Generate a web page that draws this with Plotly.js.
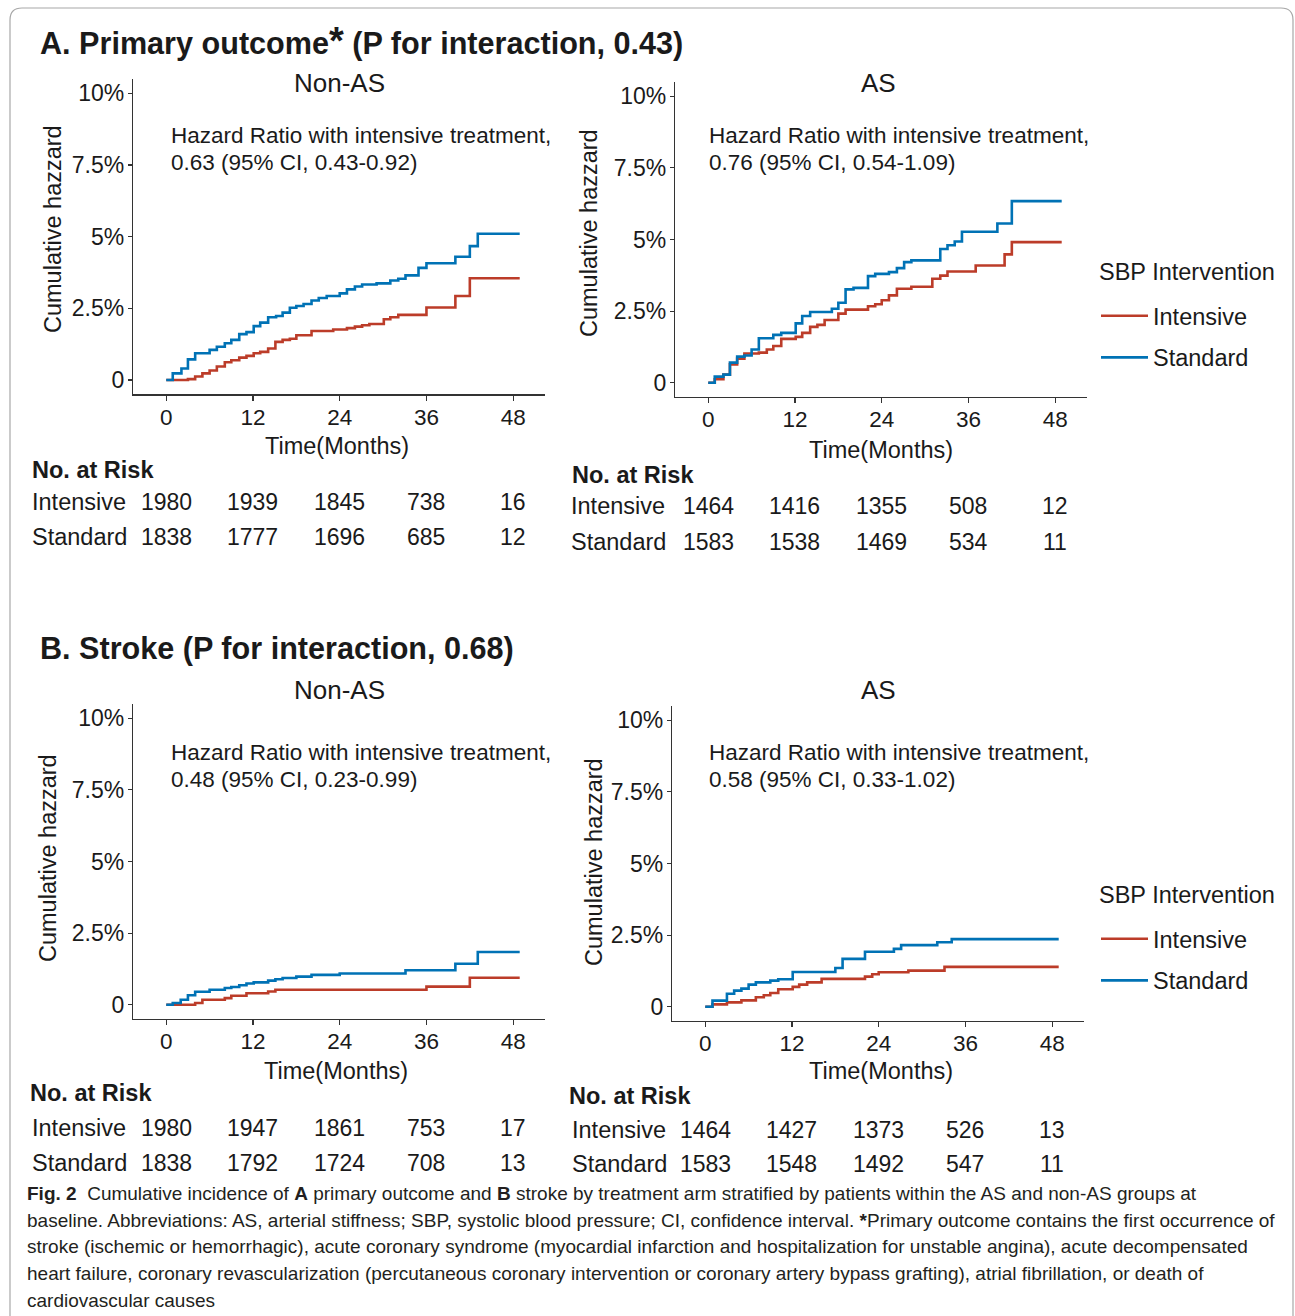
<!DOCTYPE html>
<html>
<head>
<meta charset="utf-8">
<script src="https://cdn.plot.ly/plotly-3.0.1.min.js"></script>
<style>html,body{margin:0;padding:0;background:#fff;}#chart{width:1295px;height:1316px;}</style>
</head>
<body>
<div id="chart"></div>
<script>
// ---------- DATA ----------
const groups = ["Intensive", "Standard"];
const legendTitle = "SBP Intervention";
const xTickVals = [0, 12, 24, 36, 48];
const yTickVals = [0, 2.5, 5, 7.5, 10];
const yTickText = ["0", "2.5%", "5%", "7.5%", "10%"];

// Panel A (primary outcome), Non-AS
const aNonAS_int_t = [0, 3.0, 4.0, 5.0, 6.0, 7.0, 8.1, 9.0, 10.1, 11.1, 12.1, 13.0, 14.1, 15.1, 16.1, 17.1, 18.0, 20.1, 23.1, 25.0, 26.1, 27.1, 28.1, 30.1, 31.0, 32.1, 36.0, 40.0, 42.0, 48.9];
const aNonAS_int_y = [0, 0.03, 0.12, 0.23, 0.33, 0.47, 0.62, 0.69, 0.78, 0.84, 0.93, 0.98, 1.10, 1.33, 1.40, 1.44, 1.56, 1.71, 1.76, 1.81, 1.86, 1.91, 1.95, 2.12, 2.19, 2.27, 2.53, 2.93, 3.55, 3.55];
const aNonAS_std_t = [0, 0.9, 2.1, 3.0, 4.0, 6.0, 7.0, 8.1, 9.0, 10.1, 11.1, 12.1, 13.0, 14.1, 15.2, 16.1, 17.1, 18.0, 19.0, 20.1, 21.1, 22.2, 24.0, 25.0, 26.1, 27.1, 29.1, 31.0, 32.1, 33.1, 34.9, 36.0, 40.0, 42.0, 43.1, 48.9];
const aNonAS_std_y = [0, 0.23, 0.40, 0.72, 0.93, 1.05, 1.16, 1.28, 1.40, 1.60, 1.67, 1.88, 2.00, 2.19, 2.23, 2.35, 2.52, 2.58, 2.65, 2.77, 2.86, 2.93, 3.02, 3.16, 3.26, 3.33, 3.37, 3.47, 3.53, 3.65, 3.91, 4.07, 4.30, 4.67, 5.10, 5.10];

// Panel A, AS
const aAS_int_t = [0, 0.9, 2.1, 3.0, 4.0, 5.0, 7.0, 8.1, 9.0, 10.1, 12.1, 13.0, 14.1, 15.1, 16.1, 18.0, 19.0, 22.1, 23.1, 24.0, 25.0, 26.1, 28.1, 31.0, 32.1, 33.1, 37.0, 41.0, 42.0, 48.9];
const aAS_int_y = [0, 0.12, 0.28, 0.64, 0.84, 1.02, 1.05, 1.16, 1.28, 1.53, 1.60, 1.74, 1.95, 2.02, 2.19, 2.41, 2.55, 2.67, 2.74, 2.88, 3.05, 3.28, 3.35, 3.63, 3.74, 3.88, 4.09, 4.48, 4.91, 4.91];
const aAS_std_t = [0, 0.9, 2.1, 3.0, 4.0, 5.0, 6.0, 7.0, 9.0, 10.1, 12.1, 13.0, 14.1, 17.1, 18.0, 19.0, 20.1, 22.1, 23.1, 25.0, 26.1, 27.1, 28.1, 32.1, 33.1, 34.1, 35.1, 40.0, 42.0, 48.9];
const aAS_std_y = [0, 0.21, 0.28, 0.70, 0.91, 0.95, 1.16, 1.55, 1.67, 1.74, 2.07, 2.33, 2.47, 2.58, 2.79, 3.26, 3.31, 3.72, 3.80, 3.86, 4.00, 4.21, 4.27, 4.67, 4.80, 4.93, 5.27, 5.56, 6.34, 6.34];

// Panel B (stroke), Non-AS
const bNonAS_int_t = [0, 4.0, 5.0, 8.1, 9.0, 11.1, 14.1, 15.1, 36.0, 42.0, 48.9];
const bNonAS_int_y = [0, 0.06, 0.17, 0.23, 0.31, 0.40, 0.46, 0.52, 0.63, 0.94, 0.94];
const bNonAS_std_t = [0, 0.9, 2.0, 3.0, 4.0, 6.0, 8.1, 9.0, 10.1, 11.1, 12.1, 14.1, 15.1, 16.1, 18.0, 20.1, 24.0, 33.1, 40.0, 43.1, 48.9];
const bNonAS_std_y = [0, 0.06, 0.17, 0.33, 0.45, 0.52, 0.58, 0.62, 0.68, 0.74, 0.78, 0.84, 0.89, 0.93, 0.98, 1.04, 1.09, 1.20, 1.43, 1.84, 1.84];

// Panel B, AS
const bAS_int_t = [0, 1.0, 3.0, 5.0, 7.0, 8.1, 9.0, 10.1, 12.1, 13.0, 14.1, 16.1, 22.1, 23.1, 24.0, 28.1, 33.1, 48.9];
const bAS_int_y = [0, 0.08, 0.15, 0.22, 0.33, 0.40, 0.48, 0.61, 0.69, 0.77, 0.85, 0.97, 1.05, 1.13, 1.20, 1.26, 1.39, 1.39];
const bAS_std_t = [0, 1.0, 3.0, 4.0, 5.0, 6.0, 7.0, 9.0, 10.1, 12.1, 18.0, 19.0, 22.1, 26.1, 27.1, 32.1, 34.1, 48.9];
const bAS_std_y = [0, 0.21, 0.45, 0.56, 0.63, 0.77, 0.85, 0.91, 0.96, 1.21, 1.35, 1.67, 1.92, 2.02, 2.15, 2.25, 2.36, 2.36];

// Numbers at risk (at months 0, 12, 24, 36, 48)
const riskTimes = [0, 12, 24, 36, 48];
const riskA_nonAS_int = [1980, 1939, 1845, 738, 16];
const riskA_nonAS_std = [1838, 1777, 1696, 685, 12];
const riskA_AS_int = [1464, 1416, 1355, 508, 12];
const riskA_AS_std = [1583, 1538, 1469, 534, 11];
const riskB_nonAS_int = [1980, 1947, 1861, 753, 17];
const riskB_nonAS_std = [1838, 1792, 1724, 708, 13];
const riskB_AS_int = [1464, 1427, 1373, 526, 13];
const riskB_AS_std = [1583, 1548, 1492, 547, 11];

// Texts
const titleA = "A. Primary outcome<span style=\"font-size:38px\">*</span> (P for interaction, 0.43)";
const titleB = "B. Stroke (P for interaction, 0.68)";
const hrA_nonAS = ["Hazard Ratio with intensive treatment,", "0.63 (95% CI, 0.43-0.92)"];
const hrA_AS = ["Hazard Ratio with intensive treatment,", "0.76 (95% CI, 0.54-1.09)"];
const hrB_nonAS = ["Hazard Ratio with intensive treatment,", "0.48 (95% CI, 0.23-0.99)"];
const hrB_AS = ["Hazard Ratio with intensive treatment,", "0.58 (95% CI, 0.33-1.02)"];
const captionLines = [
  "<b>Fig. 2</b>  Cumulative incidence of <b>A</b> primary outcome and <b>B</b> stroke by treatment arm stratified by patients within the AS and non-AS groups at",
  "baseline. Abbreviations: AS, arterial stiffness; SBP, systolic blood pressure; CI, confidence interval. <b>*</b>Primary outcome contains the first occurrence of",
  "stroke (ischemic or hemorrhagic), acute coronary syndrome (myocardial infarction and hospitalization for unstable angina), acute decompensated",
  "heart failure, coronary revascularization (percutaneous coronary intervention or coronary artery bypass grafting), atrial fibrillation, or death of",
  "cardiovascular causes"
];

// ---------- LAYOUT HELPERS ----------
const W = 1295, H = 1316;
const fx = p => p / W;
const fy = p => 1 - p / H;
const FONT = "Liberation Sans, Arial, Helvetica, sans-serif";
const RED = "#BC3C29", BLUE = "#0072B5";
const INK = "#1a1a1a";

function xAx(l, r) {
  return {domain: [fx(l), fx(r)], range: [-4.6, 52.4], showline: true, linecolor: "#333", linewidth: 1.2,
    ticks: "outside", ticklen: 5, tickwidth: 1.1, tickcolor: "#333", tickvals: xTickVals,
    ticklabelstandoff: -3,
    showgrid: false, zeroline: false, tickfont: {family: FONT, size: 22.5, color: INK}, fixedrange: true};
}
function yAx(b, t) {
  return {domain: [fy(b), fy(t)], range: [-0.5, 10.5], showline: true, linecolor: "#333", linewidth: 1.2,
    ticks: "outside", ticklen: 4, tickwidth: 1.1, tickcolor: "#333", tickvals: yTickVals, ticktext: yTickText,
    ticklabelstandoff: -1,
    showgrid: false, zeroline: false, tickfont: {family: FONT, size: 23, color: INK}, fixedrange: true};
}

function tr(t, y, xa, ya, name, color, leg) {
  return {x: t, y: y, xaxis: xa, yaxis: ya, type: "scatter", mode: "lines", name: name,
    line: {color: color, width: 2.6, shape: "hv"}, hoverinfo: "skip",
    showlegend: !!leg, legend: leg || "legend", legendgroup: name};
}

const data = [
  tr(aNonAS_int_t, aNonAS_int_y, "x", "y", groups[0], RED),
  tr(aNonAS_std_t, aNonAS_std_y, "x", "y", groups[1], BLUE),
  tr(aAS_int_t, aAS_int_y, "x2", "y2", groups[0], RED, "legend"),
  tr(aAS_std_t, aAS_std_y, "x2", "y2", groups[1], BLUE, "legend"),
  tr(bNonAS_int_t, bNonAS_int_y, "x3", "y3", groups[0], RED),
  tr(bNonAS_std_t, bNonAS_std_y, "x3", "y3", groups[1], BLUE),
  tr(bAS_int_t, bAS_int_y, "x4", "y4", groups[0], RED, "legend2"),
  tr(bAS_std_t, bAS_std_y, "x4", "y4", groups[1], BLUE, "legend2")
];

const ann = [];
function txt(text, x, y, size, opts) {
  ann.push(Object.assign({text: text, x: fx(x), y: fy(y), xref: "paper", yref: "paper",
    xanchor: "left", yanchor: "middle", showarrow: false,
    font: {family: FONT, size: size, color: INK}}, opts || {}));
}
// Section titles
txt("<b>" + titleA + "</b>", 38, 64, 30.6, {yanchor: "bottom"});
txt("<b>" + titleB + "</b>", 38, 648, 30.6);
// Strip titles
[[339, 83, "Non-AS"], [878, 83, "AS"], [339, 690, "Non-AS"], [878, 690, "AS"]].forEach(s => txt(s[2], s[0], s[1], 26, {xanchor: "center"}));
// HR text
[[171, 136, hrA_nonAS], [709, 136, hrA_AS], [171, 752, hrB_nonAS], [709, 752, hrB_AS]].forEach(h => {
  txt(h[2][0], h[0] - 2, h[1], 22.5);
  txt(h[2][1], h[0] - 2, h[1] + 27, 22.5);
});
// Y titles
[[53, 229], [589, 233], [48, 858], [594, 862]].forEach(p => txt("Cumulative hazzard", p[0], p[1], 23.5, {xanchor: "center", textangle: -90}));
// X titles
[[337, 446], [881, 450], [336, 1071], [881, 1071]].forEach(p => txt("Time(Months)", p[0], p[1], 23.5, {xanchor: "center"}));
// Legend titles
txt(legendTitle, 1097, 272, 23.5);
txt(legendTitle, 1097, 895, 23.5);
// Risk tables
function riskTable(xa, lx, headY, rowY1, rowY2, v1, v2, hx) {
  txt("<b>No. at Risk</b>", hx, headY, 23.5);
  txt(groups[0], lx, rowY1, 23.5);
  txt(groups[1], lx, rowY2, 23.5);
  riskTimes.forEach((t, i) => {
    ann.push({text: String(v1[i]), x: t, y: fy(rowY1), xref: xa, yref: "paper", xanchor: "center", yanchor: "middle", showarrow: false, font: {family: FONT, size: 23, color: INK}});
    ann.push({text: String(v2[i]), x: t, y: fy(rowY2), xref: xa, yref: "paper", xanchor: "center", yanchor: "middle", showarrow: false, font: {family: FONT, size: 23, color: INK}});
  });
}
riskTable("x", 30, 470, 502, 537, riskA_nonAS_int, riskA_nonAS_std, 30);
riskTable("x2", 569, 475, 506, 542, riskA_AS_int, riskA_AS_std, 570);
riskTable("x3", 30, 1093, 1128, 1163, riskB_nonAS_int, riskB_nonAS_std, 28);
riskTable("x4", 570, 1096, 1130, 1164, riskB_AS_int, riskB_AS_std, 567);
// Caption
const capY = [1193, 1220, 1246, 1273, 1300];
captionLines.forEach((l, i) => txt(l, 25, capY[i], 19, {font: {family: FONT, size: 19, color: "#231f20"}}));

const border = {type: "path", xref: "paper", yref: "paper",
  path: `M ${fx(10)},${fy(1330)} L ${fx(10)},${fy(20)} Q ${fx(10)},${fy(8)} ${fx(22)},${fy(8)} L ${fx(1281)},${fy(8)} Q ${fx(1293)},${fy(8)} ${fx(1293)},${fy(20)} L ${fx(1293)},${fy(1330)}`,
  line: {color: "#a8a8a8", width: 1.2}};

const legendBase = {xanchor: "left", yanchor: "top", bgcolor: "rgba(0,0,0,0)",
  font: {family: FONT, size: 23.5, color: INK}, tracegroupgap: 8, itemwidth: 47};

const layout = {
  width: W, height: H, margin: {l: 0, r: 0, t: 0, b: 0},
  paper_bgcolor: "#fff", plot_bgcolor: "#fff", showlegend: true,
  xaxis: Object.assign(xAx(133, 545), {anchor: "y"}), yaxis: Object.assign(yAx(394.3, 79), {anchor: "x"}),
  xaxis2: Object.assign(xAx(675, 1087), {anchor: "y2"}), yaxis2: Object.assign(yAx(397, 82), {anchor: "x2"}),
  xaxis3: Object.assign(xAx(133, 545), {anchor: "y3"}), yaxis3: Object.assign(yAx(1019, 704), {anchor: "x3"}),
  xaxis4: Object.assign(xAx(672, 1084), {anchor: "y4"}), yaxis4: Object.assign(yAx(1021, 706), {anchor: "x4"}),
  legend: Object.assign({}, legendBase, {x: fx(1096), y: fy(294)}),
  legend2: Object.assign({}, legendBase, {x: fx(1096), y: fy(917)}),
  annotations: ann, shapes: [border]
};

Plotly.newPlot("chart", data, layout, {displayModeBar: false, staticPlot: true});
</script>
</body>
</html>
